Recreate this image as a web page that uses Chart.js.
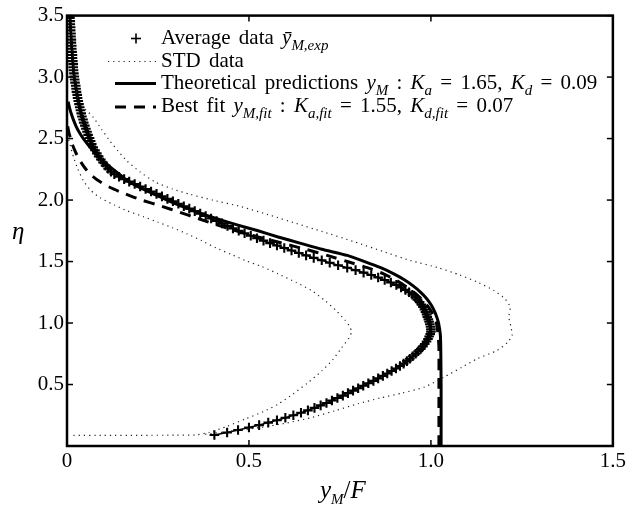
<!DOCTYPE html>
<html>
<head>
<meta charset="utf-8">
<script src="https://cdn.jsdelivr.net/npm/chart.js@4.4.1/dist/chart.umd.min.js"></script>
<style>
  body { margin: 0; background: #fff; }
  #wrap { position: relative; width: 629px; height: 509px; font-family: "Liberation Serif", "DejaVu Serif", serif; color: #000; }
  #chart { position: absolute; left: 0; top: 0; }
  .row { position: absolute; left: 161px; font-size: 21px; line-height: 21px; white-space: nowrap; word-spacing: 3px; }
  .row sub, .title sub { font-style: italic; font-size: 15px; vertical-align: -6px; line-height: 0; word-spacing: 0; }
  .title { position: absolute; font-size: 25px; line-height: 25px; white-space: nowrap; }
  svg { position: absolute; left: 0; top: 0; }
</style>
</head>
<body>
<div id="wrap">
  <canvas id="chart" width="629" height="509"></canvas>
  <svg width="629" height="130">
    <line x1="131" y1="38.5" x2="141" y2="38.5" stroke="#000" stroke-width="1.6"/>
    <line x1="136" y1="33.5" x2="136" y2="43.5" stroke="#000" stroke-width="1.6"/>
    <line x1="108" y1="61.5" x2="156" y2="61.5" stroke="#222" stroke-width="1.2" stroke-dasharray="1.2,4"/>
    <line x1="115" y1="83.5" x2="156" y2="83.5" stroke="#000" stroke-width="3"/>
    <line x1="115" y1="107" x2="156" y2="107" stroke="#000" stroke-width="3" stroke-dasharray="11,8"/>
  </svg>
  <div class="row" style="top:27px">Average data <i>ȳ</i><sub>M,exp</sub></div>
  <div class="row" style="top:50px">STD data</div>
  <div class="row" style="top:72px">Theoretical predictions <i>y</i><sub>M</sub> : <i>K</i><sub>a</sub> = 1.65, <i>K</i><sub>d</sub> = 0.09</div>
  <div class="row" style="top:95px">Best fit <i>y</i><sub>M,fit</sub> : <i>K</i><sub>a,fit</sub> = 1.55, <i>K</i><sub>d,fit</sub> = 0.07</div>
  <div class="title" style="left:320px;top:477px"><i>y</i><sub>M</sub>/<i>F</i></div>
  <div class="title" style="left:12px;top:218px"><i>η</i></div>
</div>
<script>
// [x = yM/F, y = eta]

const avgPoints = [
  [0.405,0.09],[0.44,0.11],[0.47,0.13],[0.50,0.15],[0.528,0.17],[0.553,0.19],[0.577,0.21],[0.60,0.23],
  [0.622,0.25],[0.643,0.27],[0.662,0.29],[0.68,0.31],[0.697,0.33],[0.713,0.35],[0.728,0.37],[0.743,0.39],
  [0.758,0.41],[0.772,0.43],[0.786,0.45],[0.80,0.47],[0.814,0.49],[0.828,0.51],[0.842,0.53],[0.855,0.55],
  [0.868,0.57],[0.88,0.59],[0.892,0.61],[0.904,0.63],[0.915,0.65],[0.925,0.67],[0.934,0.69],[0.942,0.71],
  [0.95,0.73],[0.958,0.75],[0.965,0.77],[0.972,0.79],[0.978,0.81],[0.983,0.83],[0.988,0.85],[0.992,0.87],
  [0.995,0.89],[0.998,0.91],[1.0,0.93],[1.0,0.95],[0.999,0.97],[0.997,0.99],[0.995,1.01],[0.993,1.03],
  [0.99,1.05],[0.988,1.07],[0.985,1.09],[0.982,1.11],[0.978,1.13],[0.974,1.15],[0.969,1.17],[0.963,1.19],
  [0.957,1.21],[0.949,1.23],[0.94,1.25],[0.93,1.27],[0.918,1.29],[0.905,1.31],[0.89,1.33],[0.873,1.35],
  [0.855,1.37],[0.836,1.39],[0.815,1.41],[0.793,1.43],[0.77,1.45],[0.745,1.47],[0.722,1.49],[0.70,1.51],
  [0.678,1.53],[0.657,1.55],[0.637,1.57],[0.617,1.59],[0.597,1.61],[0.577,1.63],[0.558,1.65],[0.54,1.67],
  [0.522,1.69],[0.505,1.71],[0.488,1.73],[0.472,1.75],[0.456,1.77],[0.441,1.79],[0.426,1.81],[0.411,1.83],
  [0.396,1.85],[0.381,1.87],[0.366,1.89],[0.351,1.91],[0.336,1.93],[0.321,1.95],[0.306,1.97],[0.291,1.99],
  [0.276,2.01],[0.261,2.03],[0.246,2.05],[0.231,2.07],[0.216,2.09],[0.201,2.11],[0.186,2.13],[0.171,2.15],
  [0.157,2.17],[0.143,2.19],[0.13,2.21],[0.121,2.23],[0.113,2.255],[0.106,2.28],[0.099,2.305],[0.093,2.33],
  [0.087,2.355],[0.082,2.38],[0.077,2.405],[0.072,2.43],[0.068,2.455],[0.065,2.48],[0.062,2.505],[0.058,2.53],
  [0.055,2.555],[0.052,2.58],[0.049,2.605],[0.046,2.63],[0.044,2.655],[0.041,2.68],[0.039,2.705],[0.037,2.73],
  [0.035,2.755],[0.033,2.78],[0.031,2.805],[0.029,2.83],[0.028,2.855],[0.026,2.88],[0.025,2.905],[0.024,2.93],
  [0.022,2.955],[0.021,2.98],[0.02,3.005],[0.019,3.03],[0.018,3.055],[0.017,3.08],[0.017,3.105],[0.016,3.13],
  [0.015,3.155],[0.015,3.18],[0.014,3.205],[0.013,3.23],[0.013,3.255],[0.012,3.28],[0.012,3.305],[0.011,3.33],
  [0.011,3.355],[0.01,3.38],[0.01,3.405],[0.009,3.43],[0.009,3.455],[0.008,3.48],[0.008,3.5]
];

const stdLow = [
  [0.018,0.087],[0.1,0.087],[0.2,0.087],[0.3,0.088],[0.355,0.09],[0.39,0.11],[0.44,0.16],[0.49,0.22],
  [0.54,0.28],[0.58,0.34],[0.62,0.42],[0.66,0.51],[0.70,0.61],[0.73,0.70],[0.755,0.80],[0.775,0.88],
  [0.782,0.93],[0.775,0.98],[0.765,1.02],[0.74,1.10],[0.71,1.18],[0.672,1.264],[0.63,1.33],[0.58,1.40],
  [0.535,1.46],[0.491,1.507],[0.45,1.56],[0.41,1.61],[0.37,1.67],[0.33,1.725],[0.29,1.775],[0.25,1.82],
  [0.21,1.865],[0.165,1.913],[0.13,1.96],[0.09,2.02],[0.065,2.08],[0.045,2.157],[0.03,2.25],[0.018,2.35],
  [0.01,2.43],[0.004,2.5]
];

const stdHigh = [
  [0.38,0.095],[0.45,0.12],[0.53,0.15],[0.60,0.185],[0.67,0.23],[0.74,0.29],[0.80,0.344],[0.86,0.39],
  [0.92,0.43],[0.982,0.479],[1.036,0.56],[1.085,0.64],[1.127,0.709],[1.182,0.777],[1.21,0.84],[1.223,0.899],
  [1.22,0.97],[1.214,1.047],[1.218,1.128],[1.204,1.196],[1.173,1.264],[1.13,1.33],[1.08,1.39],[1.02,1.45],
  [0.945,1.507],[0.87,1.58],[0.79,1.66],[0.70,1.745],[0.63,1.81],[0.56,1.875],[0.48,1.945],[0.40,2.0],
  [0.34,2.045],[0.29,2.09],[0.24,2.15],[0.20,2.23],[0.164,2.32],[0.14,2.40],[0.118,2.48],[0.095,2.575],
  [0.073,2.67],[0.05,2.74],[0.03,2.8],[0.022,3.0],[0.015,3.25],[0.01,3.5]
];

const theory = [
  [1.028,0],[1.028,0.5],[1.027,0.8],[1.026,0.9],[1.024,0.95],[1.021,1.0],[1.016,1.05],[1.009,1.1],
  [1.0,1.15],[0.988,1.2],[0.972,1.25],[0.952,1.3],[0.928,1.35],[0.898,1.4],[0.862,1.45],[0.818,1.5],
  [0.77,1.55],[0.70,1.6],[0.64,1.65],[0.58,1.7],[0.525,1.75],[0.465,1.8],[0.41,1.85],[0.36,1.9],
  [0.315,1.95],[0.275,2.0],[0.237,2.05],[0.2,2.1],[0.17,2.15],[0.148,2.2],[0.127,2.25],[0.106,2.3],
  [0.088,2.35],[0.072,2.4],[0.058,2.45],[0.045,2.5],[0.034,2.55],[0.025,2.6],[0.018,2.65],[0.012,2.7],
  [0.007,2.75],[0.003,2.8]
];

const bestFit = [
  [1.022,0],[1.022,0.5],[1.022,0.8],[1.02,0.9],[1.015,1.0],[1.009,1.05],[1.0,1.1],[0.988,1.15],
  [0.972,1.2],[0.953,1.25],[0.93,1.3],[0.903,1.35],[0.87,1.4],[0.825,1.45],[0.77,1.5],[0.715,1.55],
  [0.655,1.6],[0.59,1.65],[0.525,1.7],[0.465,1.75],[0.41,1.8],[0.36,1.85],[0.31,1.9],[0.26,1.95],
  [0.205,2.0],[0.16,2.05],[0.12,2.1],[0.09,2.15],[0.068,2.2],[0.052,2.25],[0.04,2.3],[0.03,2.35],
  [0.022,2.4],[0.015,2.45],[0.01,2.5],[0.005,2.55],[0.002,2.6]
];

const xTicks = [0, 0.5, 1.0, 1.5];
const yTicks = [0.5, 1.0, 1.5, 2.0, 2.5, 3.0, 3.5];

const toXY = arr => arr.map(p => ({ x: p[0], y: p[1] }));

// box around the plot + inward tick marks on all four sides
const frame = {
  id: 'frame',
  afterDatasetsDraw(chart) {
    const { ctx, chartArea: a, scales } = chart;
    const seg = (x1, y1, x2, y2) => { ctx.beginPath(); ctx.moveTo(x1, y1); ctx.lineTo(x2, y2); ctx.stroke(); };
    ctx.save();
    ctx.strokeStyle = '#000';
    ctx.lineWidth = 1.5;
    xTicks.forEach(v => {
      const px = scales.x.getPixelForValue(v);
      seg(px, a.bottom, px, a.bottom - 6);
      seg(px, a.top, px, a.top + 6);
    });
    yTicks.forEach(v => {
      const py = scales.y.getPixelForValue(v);
      seg(a.left, py, a.left + 6, py);
      seg(a.right, py, a.right - 6, py);
    });
    ctx.lineWidth = 2.5;
    ctx.strokeRect(a.left, a.top, a.right - a.left, a.bottom - a.top);
    ctx.restore();
  }
};

const tickFont = { family: 'Liberation Serif', size: 21 };

new Chart(document.getElementById('chart'), {
  type: 'scatter',
  data: {
    datasets: [
      { label: 'STD data', data: toXY(stdLow), showLine: true, borderColor: '#222', borderWidth: 1.2, borderDash: [1.2, 4], pointRadius: 0, tension: 0.2 },
      { label: 'STD data', data: toXY(stdHigh), showLine: true, borderColor: '#222', borderWidth: 1.2, borderDash: [1.2, 4], pointRadius: 0, tension: 0.2 },
      { label: 'Theoretical predictions', data: toXY(theory), showLine: true, borderColor: '#000', borderWidth: 3, pointRadius: 0, tension: 0.2 },
      { label: 'Best fit', data: toXY(bestFit), showLine: true, borderColor: '#000', borderWidth: 3, borderDash: [11, 8], pointRadius: 0, tension: 0.2 },
      { label: 'Average data', data: toXY(avgPoints), showLine: true, borderColor: '#000', borderWidth: 1.5,
        pointStyle: 'cross', pointRadius: 4.8, pointBorderWidth: 2.1, pointBorderColor: '#000', pointBackgroundColor: '#000' }
    ]
  },
  options: {
    responsive: false,
    animation: false,
    devicePixelRatio: 1,
    layout: { padding: { top: 14, right: 12, left: 0, bottom: 0 } },
    plugins: { legend: { display: false }, tooltip: { enabled: false } },
    scales: {
      x: {
        type: 'linear', min: 0, max: 1.5,
        afterBuildTicks: s => { s.ticks = xTicks.map(v => ({ value: v })); },
        ticks: { font: tickFont, color: '#000', padding: 3, maxRotation: 0,
          callback: v => v === 0 ? '0' : v.toFixed(1) },
        grid: { display: false, drawTicks: false },
        border: { display: false },
        afterFit: s => { s.height = 63; }
      },
      y: {
        type: 'linear', min: 0, max: 3.5,
        afterBuildTicks: s => { s.ticks = yTicks.map(v => ({ value: v })); },
        ticks: { font: tickFont, color: '#000', padding: 3,
          callback: v => v.toFixed(1) },
        grid: { display: false, drawTicks: false },
        border: { display: false },
        afterFit: s => { s.width = 67; }
      }
    }
  },
  plugins: [frame]
});
</script>
</body>
</html>
